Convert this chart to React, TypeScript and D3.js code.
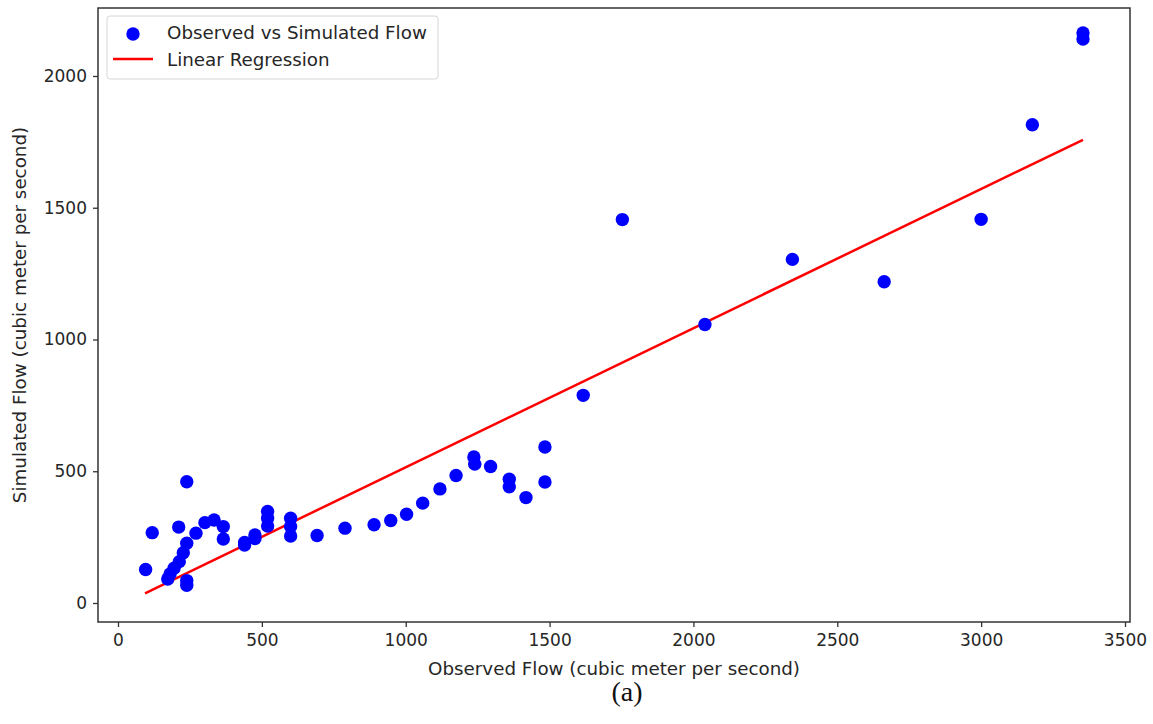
import React, { useEffect, useRef } from 'react';
import * as d3 from 'd3';

// observed vs simulated flow (cubic meter per second)
const observed = [
  96, 119, 173, 181, 195, 213, 227, 239, 211, 239, 239, 239, 271, 302, 334, 366, 366,
  440, 440, 476, 476, 520, 520, 520, 600, 600, 600, 692, 789, 890, 948, 1003, 1059,
  1119, 1175, 1237, 1240, 1295, 1360, 1360, 1418, 1484, 1484, 1617, 1753, 2040, 2344,
  2663, 3000, 3178, 3354, 3354,
];
const simulated = [
  127, 267, 91, 110, 132, 157, 191, 227, 288, 460, 85, 67, 265, 305, 315, 290, 243,
  220, 230, 258, 245, 347, 322, 292, 322, 290, 254, 256, 284, 297, 313, 337, 379,
  433, 484, 554, 527, 518, 470, 441, 400, 592, 459, 788, 1455, 1057, 1304,
  1219, 1456, 1815, 2163, 2140,
];

// fitted line y = slope * x + intercept
const regSlope = 0.528;
const regIntercept = -13;

const xTicks = [0, 500, 1000, 1500, 2000, 2500, 3000, 3500];
const yTicks = [0, 500, 1000, 1500, 2000];

const FONT = '"DejaVu Sans", sans-serif';
const INK = '#262626';

const App = () => {
  const svgRef = useRef<SVGSVGElement>(null);

  useEffect(() => {
    const svg = d3.select(svgRef.current);
    svg.selectAll('*').remove();

    const left = 98, right = 1130, top = 8, bottom = 622;

    const x = d3.scaleLinear().domain([-69.5, 3517.4]).range([left, right]);
    const y = d3.scaleLinear().domain([-72.1, 2258]).range([bottom, top]);

    svg.append('rect').attr('width', 1153).attr('height', 724).attr('fill', '#fff');

    // regression line over the observed range
    const [x0, x1] = d3.extent(observed) as [number, number];
    const line = d3.line<number>()
      .x(d => x(d))
      .y(d => y(regSlope * d + regIntercept));
    svg.append('path')
      .datum([x0 - 2, x1])
      .attr('d', line)
      .attr('fill', 'none')
      .attr('stroke', '#ff0000')
      .attr('stroke-width', 2.5);

    // points
    svg.append('g')
      .selectAll('circle')
      .data(observed.map((o, i) => [o, simulated[i]]))
      .enter()
      .append('circle')
      .attr('cx', d => x(d[0]))
      .attr('cy', d => y(d[1]))
      .attr('r', 6.7)
      .attr('fill', '#0000ff');

    // frame
    svg.append('rect')
      .attr('x', left).attr('y', top)
      .attr('width', right - left).attr('height', bottom - top)
      .attr('fill', 'none').attr('stroke', '#333').attr('stroke-width', 1.5);

    const xAxis = svg.append('g')
      .attr('transform', `translate(0,${bottom})`)
      .call(d3.axisBottom(x).tickValues(xTicks).tickSize(5).tickPadding(7).tickFormat(d3.format('d')));
    const yAxis = svg.append('g')
      .attr('transform', `translate(${left},0)`)
      .call(d3.axisLeft(y).tickValues(yTicks).tickSize(5).tickPadding(6).tickFormat(d3.format('d')));
    [xAxis, yAxis].forEach(a => {
      a.select('.domain').remove();
      a.selectAll('line').attr('stroke', '#333').attr('stroke-width', 1.3);
      a.selectAll('text')
        .attr('fill', INK)
        .style('font-family', FONT)
        .style('font-size', '17px');
    });

    // axis titles
    svg.append('text')
      .attr('x', 614)
      .attr('y', 675)
      .attr('text-anchor', 'middle')
      .attr('fill', INK)
      .style('font-family', FONT)
      .style('font-size', '18.3px')
      .text('Observed Flow (cubic meter per second)');
    svg.append('text')
      .attr('transform', `translate(26,${(top + bottom) / 2}) rotate(-90)`)
      .attr('text-anchor', 'middle')
      .attr('fill', INK)
      .style('font-family', FONT)
      .style('font-size', '18.3px')
      .text('Simulated Flow (cubic meter per second)');

    // caption
    svg.append('text')
      .attr('x', 627)
      .attr('y', 701)
      .attr('text-anchor', 'middle')
      .attr('fill', '#111')
      .style('font-family', '"Liberation Serif", serif')
      .style('font-size', '28px')
      .text('(a)');

    // legend
    const lg = svg.append('g');
    lg.append('rect')
      .attr('x', 107).attr('y', 16).attr('width', 331).attr('height', 63)
      .attr('rx', 3).attr('fill', '#fff').attr('stroke', '#d6d6d6').attr('stroke-width', 1);
    lg.append('circle').attr('cx', 133).attr('cy', 34).attr('r', 6.7).attr('fill', '#0000ff');
    lg.append('line')
      .attr('x1', 113).attr('x2', 153).attr('y1', 59).attr('y2', 59)
      .attr('stroke', '#ff0000').attr('stroke-width', 2.5);
    [['Observed vs Simulated Flow', 32], ['Linear Regression', 59]].forEach(([t, cy]) => {
      lg.append('text')
        .attr('x', 167).attr('y', (cy as number) + 6.5)
        .attr('fill', INK)
        .style('font-family', FONT)
        .style('font-size', '18.3px')
        .text(t as string);
    });
  }, []);

  return (
    <div style={{ position: 'absolute', left: 0, top: 0 }}>
      <svg ref={svgRef} width={1153} height={724} style={{ display: 'block' }}></svg>
    </div>
  );
};

export default App;
